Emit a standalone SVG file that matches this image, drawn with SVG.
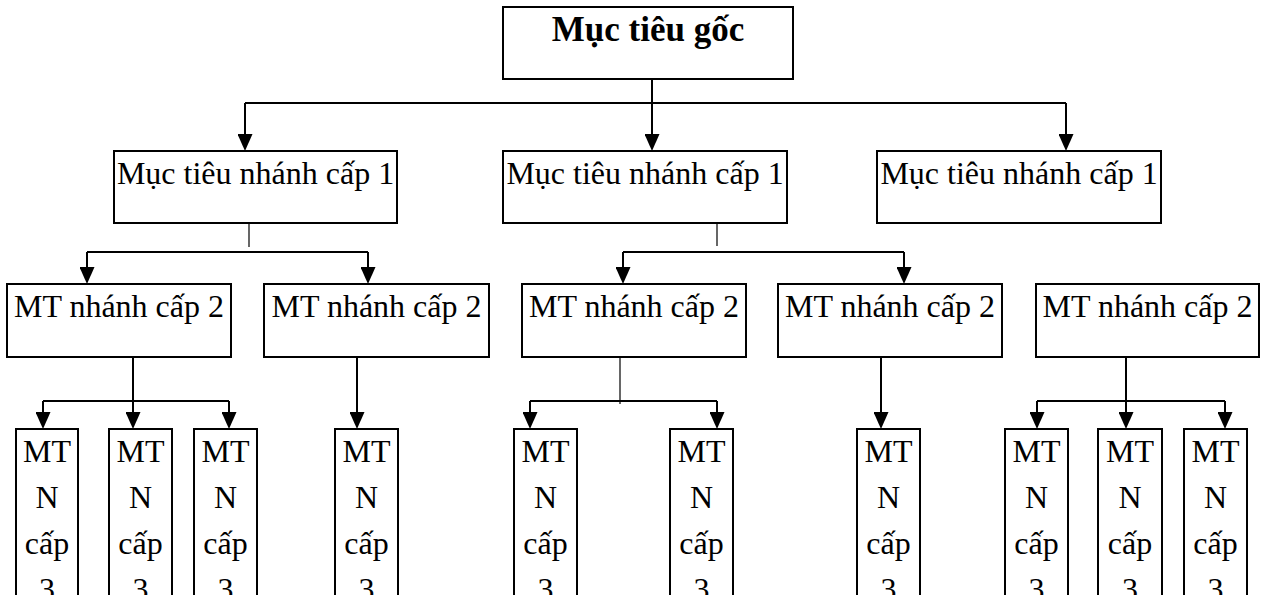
<svg xmlns="http://www.w3.org/2000/svg" width="1261" height="595" viewBox="0 0 1261 595">
<style>
.box{fill:#fff;stroke:#000;stroke-width:2}
.t{font-family:"Liberation Serif","Times New Roman",serif;font-size:32px;fill:#000;text-anchor:middle}
.tb{font-family:"Liberation Serif","Times New Roman",serif;font-size:35px;font-weight:bold;fill:#000;text-anchor:middle}
.c{fill:none;stroke:#000;stroke-width:2}
.a{fill:none;stroke:#000;stroke-width:2;marker-end:url(#ah)}
.thin{fill:none;stroke:#000;stroke-width:1.2}
</style>
<defs>
<marker id="ah" viewBox="0 0 17 15" refX="11" refY="7.5" markerWidth="17" markerHeight="15" markerUnits="userSpaceOnUse" orient="auto">
<path d="M0,0 L17,7.5 L0,15 z" fill="#000"/>
</marker>
</defs>
<rect width="1261" height="595" fill="#fff"/>
<g id="connectors">
<path class="c" d="M652,79 V103 M245,103 H1066"/>
<path class="a" d="M245,103 V145"/>
<path class="a" d="M652,103 V145"/>
<path class="a" d="M1066,103 V145"/>
<path class="thin" d="M249,223 V247"/>
<path class="thin" d="M717,223 V246"/>
<path class="c" d="M87,252 H368 M623,252 H904"/>
<path class="a" d="M87,252 V278"/>
<path class="a" d="M368,252 V278"/>
<path class="a" d="M623,252 V278"/>
<path class="a" d="M904,252 V278"/>
<path class="c" d="M43,401 H229"/>
<path class="a" d="M133,357 V423"/>
<path class="a" d="M43,401 V423"/>
<path class="a" d="M229,401 V423"/>
<path class="a" d="M357,357 V423"/>
<path class="thin" d="M620,357 V404"/>
<path class="c" d="M530,401 H717"/>
<path class="a" d="M530,401 V423"/>
<path class="a" d="M717,401 V423"/>
<path class="a" d="M881,357 V423"/>
<path class="c" d="M1037,401 H1225"/>
<path class="a" d="M1126,357 V423"/>
<path class="a" d="M1037,401 V423"/>
<path class="a" d="M1225,401 V423"/>
</g>
<g id="root"><rect class="box" x="503" y="7" width="290" height="72"/><text class="tb" x="648" y="41">Mục tiêu gốc</text></g>
<g id="l1a"><rect class="box" x="114" y="151" width="283" height="72"/><text class="t" x="255.5" y="184">Mục tiêu nhánh cấp 1</text></g>
<g id="l1b"><rect class="box" x="503" y="151" width="284" height="72"/><text class="t" x="645" y="184">Mục tiêu nhánh cấp 1</text></g>
<g id="l1c"><rect class="box" x="877" y="151" width="284" height="72"/><text class="t" x="1019" y="184">Mục tiêu nhánh cấp 1</text></g>
<g id="l2a"><rect class="box" x="7" y="284" width="224" height="73"/><text class="t" x="119" y="317">MT nhánh cấp 2</text></g>
<g id="l2b"><rect class="box" x="264" y="284" width="225" height="73"/><text class="t" x="376.5" y="317">MT nhánh cấp 2</text></g>
<g id="l2c"><rect class="box" x="522" y="284" width="224" height="73"/><text class="t" x="634" y="317">MT nhánh cấp 2</text></g>
<g id="l2d"><rect class="box" x="778" y="284" width="224" height="73"/><text class="t" x="890" y="317">MT nhánh cấp 2</text></g>
<g id="l2e"><rect class="box" x="1036" y="284" width="223" height="73"/><text class="t" x="1147.5" y="317">MT nhánh cấp 2</text></g>
<g id="l3a"><rect class="box" x="16" y="429" width="62" height="200"/><text class="t" x="47" y="462">MT<tspan x="47" dy="46">N</tspan><tspan x="47" dy="46">cấp</tspan><tspan x="47" dy="46">3</tspan></text></g>
<g id="l3b"><rect class="box" x="109" y="429" width="63" height="200"/><text class="t" x="140.5" y="462">MT<tspan x="140.5" dy="46">N</tspan><tspan x="140.5" dy="46">cấp</tspan><tspan x="140.5" dy="46">3</tspan></text></g>
<g id="l3c"><rect class="box" x="194" y="429" width="63" height="200"/><text class="t" x="225.5" y="462">MT<tspan x="225.5" dy="46">N</tspan><tspan x="225.5" dy="46">cấp</tspan><tspan x="225.5" dy="46">3</tspan></text></g>
<g id="l3d"><rect class="box" x="335" y="429" width="63" height="200"/><text class="t" x="366.5" y="462">MT<tspan x="366.5" dy="46">N</tspan><tspan x="366.5" dy="46">cấp</tspan><tspan x="366.5" dy="46">3</tspan></text></g>
<g id="l3e"><rect class="box" x="514" y="429" width="63" height="200"/><text class="t" x="545.5" y="462">MT<tspan x="545.5" dy="46">N</tspan><tspan x="545.5" dy="46">cấp</tspan><tspan x="545.5" dy="46">3</tspan></text></g>
<g id="l3f"><rect class="box" x="670" y="429" width="63" height="200"/><text class="t" x="701.5" y="462">MT<tspan x="701.5" dy="46">N</tspan><tspan x="701.5" dy="46">cấp</tspan><tspan x="701.5" dy="46">3</tspan></text></g>
<g id="l3g"><rect class="box" x="857" y="429" width="63" height="200"/><text class="t" x="888.5" y="462">MT<tspan x="888.5" dy="46">N</tspan><tspan x="888.5" dy="46">cấp</tspan><tspan x="888.5" dy="46">3</tspan></text></g>
<g id="l3h"><rect class="box" x="1005" y="429" width="63" height="200"/><text class="t" x="1036.5" y="462">MT<tspan x="1036.5" dy="46">N</tspan><tspan x="1036.5" dy="46">cấp</tspan><tspan x="1036.5" dy="46">3</tspan></text></g>
<g id="l3i"><rect class="box" x="1098" y="429" width="64" height="200"/><text class="t" x="1130" y="462">MT<tspan x="1130" dy="46">N</tspan><tspan x="1130" dy="46">cấp</tspan><tspan x="1130" dy="46">3</tspan></text></g>
<g id="l3j"><rect class="box" x="1184" y="429" width="63" height="200"/><text class="t" x="1215.5" y="462">MT<tspan x="1215.5" dy="46">N</tspan><tspan x="1215.5" dy="46">cấp</tspan><tspan x="1215.5" dy="46">3</tspan></text></g>
</svg>
